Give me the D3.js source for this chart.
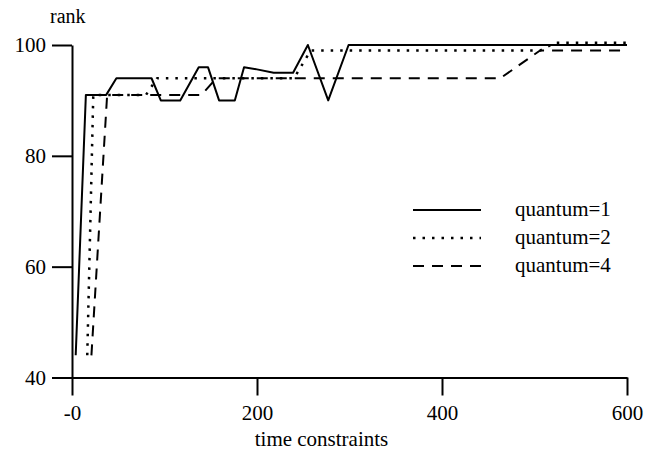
<!DOCTYPE html>
<html>
<head>
<meta charset="utf-8">
<script src="https://cdn.jsdelivr.net/npm/d3@7"></script>
<style>
  html, body { margin: 0; padding: 0; background: #fff; }
  svg { display: block; }
</style>
</head>
<body>
<div id="chart"></div>
<script>
'use strict';

// time constraints (x) and rank (y) for each quantum setting
const q1Time = [4, 15, 37, 48, 86, 96, 117, 137, 147, 159, 176, 186, 200, 218, 239, 255, 277, 299, 600];
const q1Rank = [44, 91, 91, 94, 94, 90, 90, 96, 96, 90, 90, 96, 95.6, 95, 95, 100, 90, 100, 100];

const q2Time = [16.5, 23, 80, 92, 240, 258, 506, 522, 600];
const q2Rank = [44, 91, 91, 94, 94, 99, 99, 100.4, 100.4];

const q4Time = [21, 38, 140, 156, 463, 506, 600];
const q4Rank = [44, 91, 91, 94, 94, 99, 99];

const seriesNames = ['quantum=1', 'quantum=2', 'quantum=4'];
const xTicks = [0, 200, 400, 600];
const yTicks = [40, 60, 80, 100];

const width = 655, height = 465;

// solid, dotted, dashed
const dashes = ['0', '2.5,7', '11,8'];

const svg = d3.select('#chart').append('svg')
  .attr('width', width)
  .attr('height', height)
  .attr('font-family', '"Liberation Serif", serif');

const x = d3.scaleLinear().domain([0, 600]).range([72, 627]);
const y = d3.scaleLinear().domain([40, 100]).range([377.5, 45]);

// axes
const xAxis = d3.axisBottom(x)
  .tickValues(xTicks)
  .tickSize(18)
  .tickSizeOuter(0)
  .tickPadding(10)
  .tickFormat(d => d === 0 ? '-0' : d);

const yAxis = d3.axisLeft(y)
  .tickValues(yTicks)
  .tickSize(20)
  .tickSizeOuter(0)
  .tickPadding(6);

const gx = svg.append('g')
  .attr('transform', `translate(0,${y(40)})`)
  .call(xAxis);

const gy = svg.append('g')
  .attr('transform', `translate(${x(0)},0)`)
  .call(yAxis);

[gx, gy].forEach(g => {
  g.attr('font-family', '"Liberation Serif", serif').attr('font-size', 21);
  g.select('.domain').attr('stroke', '#000').attr('stroke-width', 2);
  g.selectAll('.tick line').attr('stroke', '#000').attr('stroke-width', 2);
  g.selectAll('.tick text').attr('fill', '#000');
});

// axis titles
svg.append('text')
  .attr('x', 50)
  .attr('y', 23)
  .attr('font-size', 20)
  .text('rank');

svg.append('text')
  .attr('x', x(300) - 28)
  .attr('y', 446)
  .attr('text-anchor', 'middle')
  .attr('font-size', 21)
  .text('time constraints');

// lines
const line = d3.line()
  .x(d => x(d[0]))
  .y(d => y(d[1]));

const series = [
  d3.zip(q1Time, q1Rank),
  d3.zip(q2Time, q2Rank),
  d3.zip(q4Time, q4Rank)
];

svg.append('g')
  .selectAll('path')
  .data(series)
  .join('path')
  .attr('fill', 'none')
  .attr('stroke', '#000')
  .attr('stroke-width', (d, i) => i === 1 ? 2.5 : 2)
  .attr('stroke-dasharray', (d, i) => dashes[i])
  .attr('stroke-linejoin', 'round')
  .attr('d', line);

// legend
const legend = svg.append('g')
  .selectAll('g')
  .data(seriesNames)
  .join('g')
  .attr('transform', (d, i) => `translate(413,${210 + i * 28})`);

legend.append('line')
  .attr('x1', 0)
  .attr('x2', 68)
  .attr('stroke', '#000')
  .attr('stroke-width', (d, i) => i === 1 ? 2.5 : 2)
  .attr('stroke-dasharray', (d, i) => dashes[i]);

legend.append('text')
  .attr('x', 102)
  .attr('y', 6)
  .attr('font-size', 21)
  .text(d => d);
</script>
</body>
</html>
